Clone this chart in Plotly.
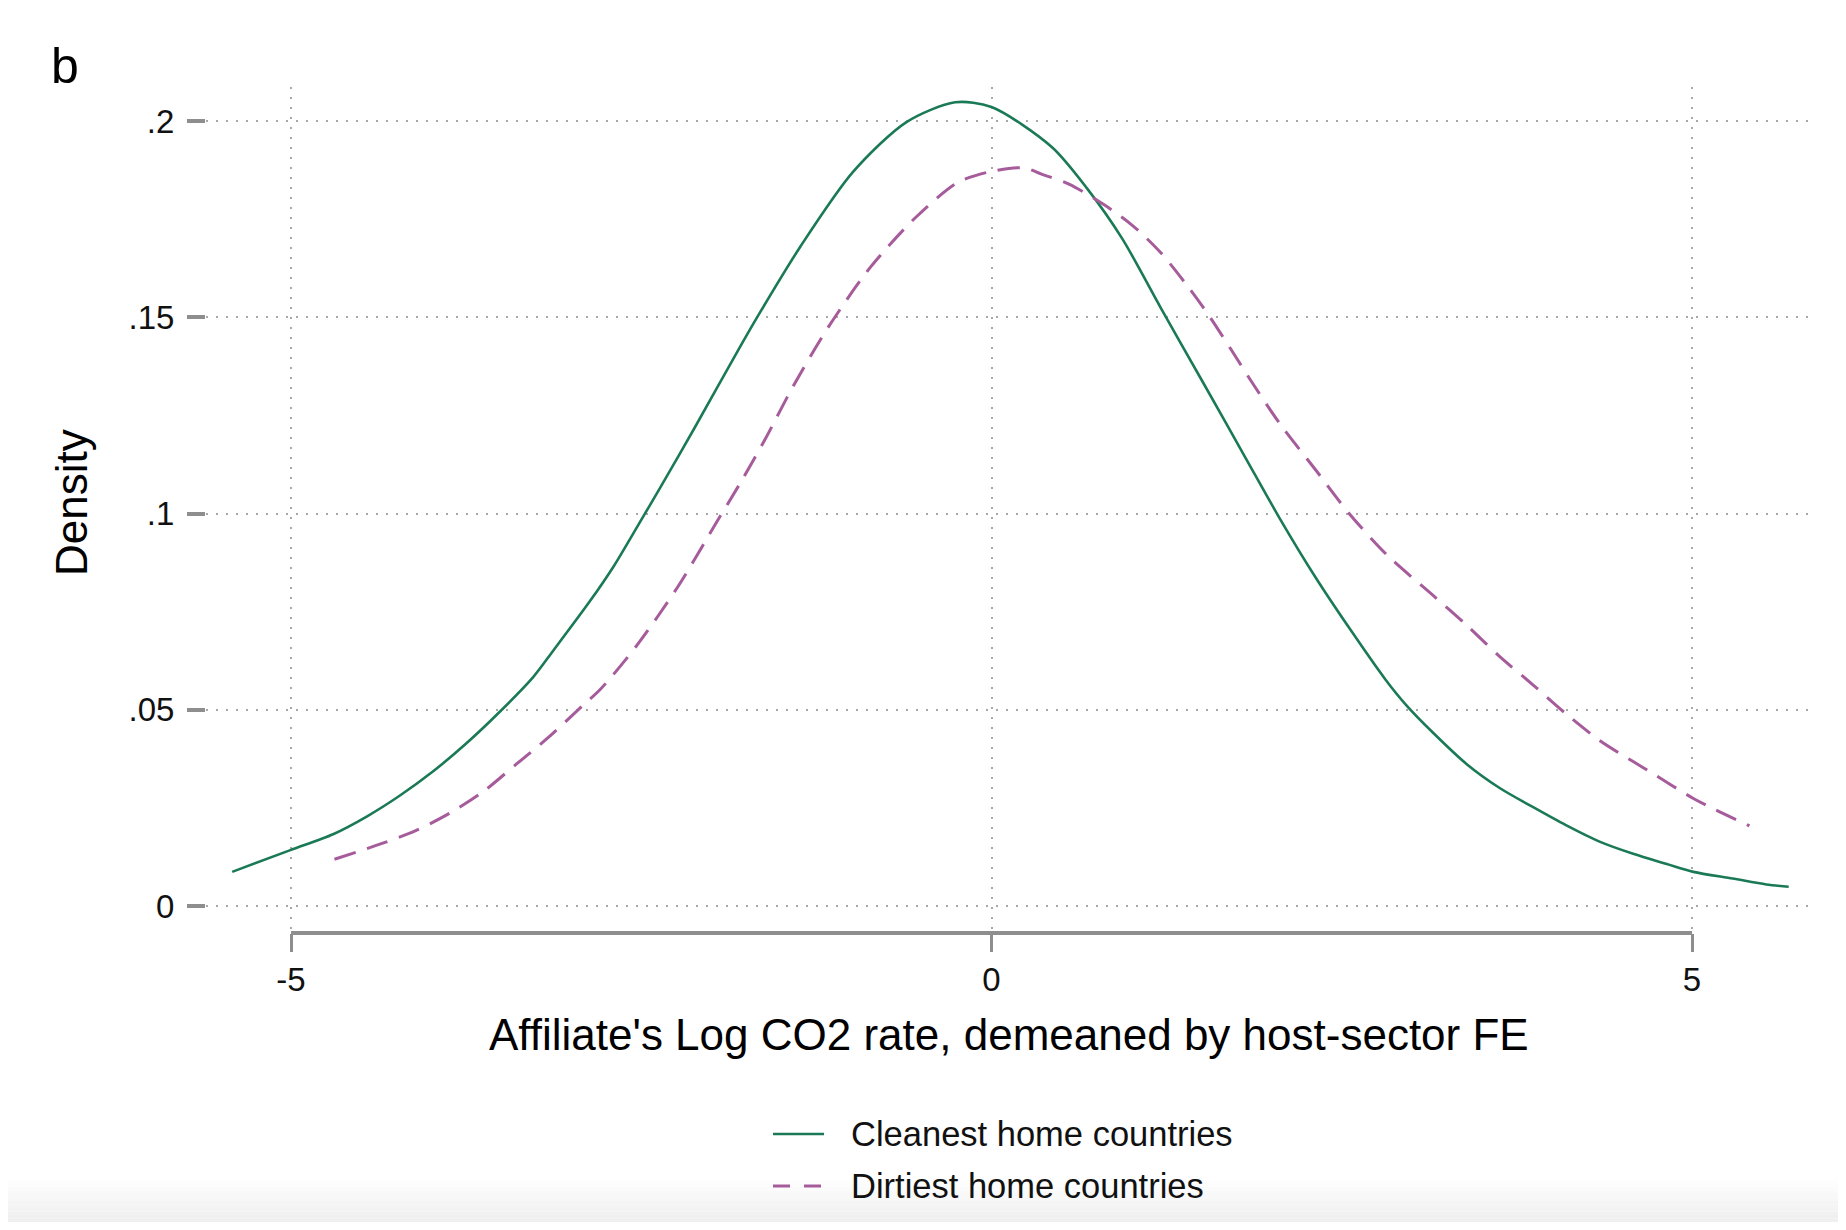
import plotly.graph_objects as go

# ---- data ----
clean_x = [-5.42, -5.0, -4.70, -4.46, -4.225, -3.99, -3.75, -3.51, -3.27, -3.13, -2.87, -2.70, -2.52,
           -2.37, -2.12, -1.79, -1.665, -1.365, -0.99, -0.61, -0.26, 0.0, 0.43, 0.683, 0.934, 1.21,
           1.51, 1.81, 2.06, 2.31, 2.56, 2.81, 2.96, 3.15, 3.39, 3.63, 3.86, 4.10, 4.34, 4.58, 4.82,
           5.01, 5.29, 5.53, 5.69]
clean_y = [0.0087, 0.0143, 0.0183, 0.0228, 0.0281, 0.0342, 0.0414, 0.0495, 0.0584, 0.0650, 0.0775,
           0.0864, 0.0972, 0.1063, 0.1218, 0.1428, 0.1505, 0.1680, 0.1870, 0.1997, 0.2048, 0.2036,
           0.1934, 0.1828, 0.1700, 0.1523, 0.1334, 0.1144, 0.0986, 0.0839, 0.0705, 0.0578, 0.0512,
           0.0442, 0.0362, 0.0300, 0.0253, 0.0206, 0.0164, 0.0133, 0.0107, 0.0087, 0.0070, 0.0055,
           0.0049]

dirty_x = [-4.69, -4.345, -4.11, -3.87, -3.63, -3.39, -3.155, -2.92, -2.79, -2.54, -2.24, -1.966,
           -1.79, -1.615, -1.415, -1.165, -0.864, -0.54, -0.24, 0.0, 0.233, 0.357, 0.557, 0.807,
           1.007, 1.207, 1.407, 1.557, 1.71, 1.86, 2.06, 2.31, 2.56, 2.83, 3.15, 3.39, 3.63, 3.86,
           4.10, 4.34, 4.58, 4.70, 5.01, 5.17, 5.41]
dirty_y = [0.0119, 0.0160, 0.0192, 0.0236, 0.0291, 0.0362, 0.0432, 0.0510, 0.0553, 0.0660, 0.0813,
           0.0976, 0.1080, 0.1190, 0.1325, 0.1475, 0.1628, 0.1755, 0.1844, 0.1872, 0.1881, 0.1865,
           0.1839, 0.1786, 0.1734, 0.1665, 0.1576, 0.1502, 0.1418, 0.1334, 0.1228, 0.1113, 0.0997,
           0.0892, 0.0792, 0.0716, 0.0635, 0.0565, 0.0490, 0.0422, 0.0368, 0.0342, 0.0274, 0.0245,
           0.0204]

series_names = ["Cleanest home countries", "Dirtiest home countries"]
x_ticks = [-5, 0, 5]
x_ticklabels = ["-5", "0", "5"]
y_ticks = [0, 0.05, 0.1, 0.15, 0.2]
y_ticklabels = ["0", ".05", ".1", ".15", ".2"]
x_title = "Affiliate's Log CO2 rate, demeaned by host-sector FE"
y_title = "Density"
panel_label = "b"

# ---- styling ----
FONT = "Liberation Sans, Arial, sans-serif"
GREEN = "#1b7a56"
PINK = "#a65c9b"
AXIS_GRAY = "#8e8e8e"
GRID_GRAY = "#a8a8a8"
series_colors = [GREEN, PINK]
series_dash = ["solid", "22px,12px"]
series_width = [2.6, 3]
legend_dash = ["solid", "17px,14px"]

OFF = 8                      # browser body margin
PAGE_W, PAGE_H = 1846, 1230
W, H = PAGE_W - 2 * OFF, PAGE_H - 2 * OFF
PLOT_L, PLOT_R, PLOT_T, PLOT_B = 206, 1815, 87, 933   # page pixels of the plot area
ML = PLOT_L - OFF
MT = PLOT_T - OFF
MR = W - ML - (PLOT_R - PLOT_L)
MB = H - MT - (PLOT_B - PLOT_T)
plot_w = PLOT_R - PLOT_L
plot_h = PLOT_B - PLOT_T


def px_x(p):
    return (p - PLOT_L) / plot_w


def px_y(p):
    return (PLOT_B - p) / plot_h


fig = go.Figure()
for xs, ys, name, col, dash, wid in zip([clean_x, dirty_x], [clean_y, dirty_y], series_names,
                                        series_colors, series_dash, series_width):
    fig.add_trace(go.Scatter(x=xs, y=ys, mode="lines", name=name, showlegend=False,
                             line=dict(color=col, width=wid, dash=dash, shape="spline", smoothing=0.8)))

axis_font = dict(family=FONT, size=33, color="#111111")

fig.update_layout(
    width=W, height=H,
    margin=dict(l=ML, r=MR, t=MT, b=MB, pad=0),
    paper_bgcolor="white", plot_bgcolor="white",
    font=dict(family=FONT, color="#111111"),
    xaxis=dict(range=[-5.607, 5.878], tickmode="array", tickvals=x_ticks, ticktext=x_ticklabels,
               showgrid=True, gridcolor=GRID_GRAY, gridwidth=2, griddash="2px,8px",
               zeroline=False, showline=False, ticks="outside", ticklen=18, tickwidth=3,
               tickcolor=AXIS_GRAY, tickfont=axis_font, ticklabelstandoff=-1),
    yaxis=dict(range=[-0.00688, 0.2087], tickmode="array", tickvals=y_ticks, ticktext=y_ticklabels,
               showgrid=True, gridcolor=GRID_GRAY, gridwidth=2, griddash="2px,8px",
               zeroline=False, showline=False, ticks="outside", ticklen=18, tickwidth=3.5,
               tickcolor=AXIS_GRAY, tickfont=axis_font, ticklabelstandoff=6),
    showlegend=False,
)

# x axis line spanning only the labelled range
fig.add_shape(type="line", xref="x", yref="paper", x0=x_ticks[0], x1=x_ticks[-1], y0=0, y1=0,
              line=dict(color=AXIS_GRAY, width=4), layer="above")

# legend (drawn as keys + labels below the axis title)
legend_rows = [1134, 1186]
for name, col, dash, wid, row in zip(series_names, series_colors, legend_dash, series_width, legend_rows):
    fig.add_shape(type="line", xref="paper", yref="paper", x0=px_x(773), x1=px_x(824),
                  y0=px_y(row), y1=px_y(row), line=dict(color=col, width=wid, dash=dash))
    fig.add_annotation(text=name, xref="paper", yref="paper", x=px_x(849), y=px_y(row),
                       xanchor="left", yanchor="middle", showarrow=False,
                       font=dict(family=FONT, size=34.5, color="#111111"))

# subtle grey fade at the bottom of the picture
n_strip = 12
for i in range(n_strip):
    top = 1180 + i * (PAGE_H - OFF - 1180) / n_strip
    bot = 1180 + (i + 1) * (PAGE_H - OFF - 1180) / n_strip
    g = int(255 - (i + 1) * 16 / n_strip)
    fig.add_shape(type="rect", xref="paper", yref="paper", x0=px_x(OFF), x1=px_x(PAGE_W - OFF),
                  y0=px_y(bot), y1=px_y(top), line=dict(width=0),
                  fillcolor=f"rgb({g},{g},{g})", layer="below")

fig.add_annotation(text=panel_label, xref="paper", yref="paper", x=px_x(65), y=px_y(66),
                   xanchor="center", yanchor="middle", showarrow=False,
                   font=dict(family=FONT, size=50, color="#000000"))
fig.add_annotation(text=x_title, xref="paper", yref="paper", x=px_x(1009), y=px_y(1034),
                   xanchor="center", yanchor="middle", showarrow=False,
                   font=dict(family=FONT, size=44, color="#000000"))
fig.add_annotation(text=y_title, xref="paper", yref="paper", x=px_x(71), y=px_y(503),
                   xanchor="center", yanchor="middle", showarrow=False, textangle=-90,
                   font=dict(family=FONT, size=44, color="#000000"))

fig.write_html("out.html")
